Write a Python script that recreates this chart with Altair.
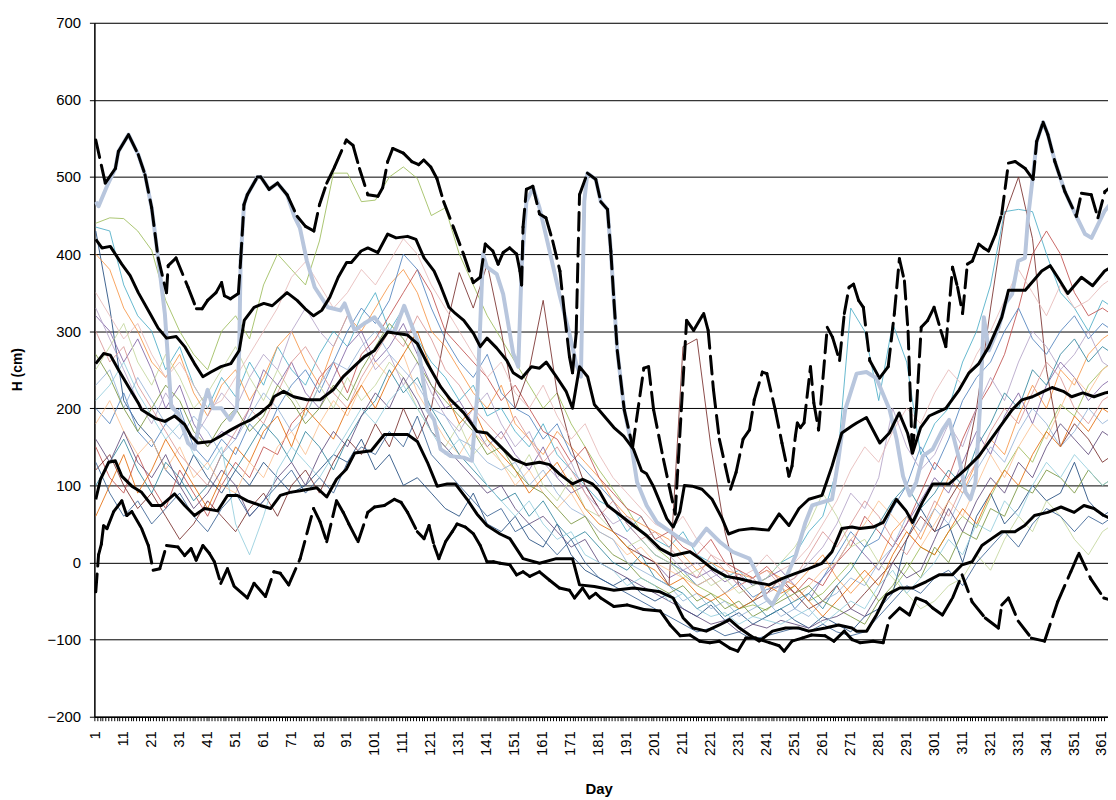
import altair as alt
import pandas as pd

# ---------------- data ----------------
grid_days = list(range(1, 362, 5)) + [365]

S1 = [440, 447, 446, 430, 405, 340, 300, 270, 250, 300,
      320, 290, 360, 400, 380, 360, 417, 505, 505, 468,
      470, 500, 513, 498, 450, 460, 400, 360, 320, 290,
      260, 230, 200, 220, 180, 150, 120, 95, 70, 40,
      20, 5, -15, -30, -40, -50, -60, -55, -62, -45,
      -30, -50, -40, -20, 0, -25, -50, -35, -10, 20,
      10, 40, 60, 45, 85, 120, 150, 130, 170, 205,
      190, 230, 250, 262]
S2 = [435, 430, 360, 320, 300, 250, 280, 230, 200, 240,
      215, 260, 230, 280, 250, 230, 270, 300, 280, 320,
      350, 300, 330, 290, 260, 240, 210, 230, 190, 200,
      170, 150, 180, 140, 120, 100, 80, 70, 40, 60,
      30, 20, 40, 10, 0, -20, -10, -30, -20, 0,
      10, 40, 60, 120, 330, 300, 210, 310, 260, 140,
      180, 200, 260, 300, 360, 455, 458, 455, 400, 350,
      330, 300, 340, 330]
S3 = [430, 330, 210, 180, 160, 120, 100, 140, 110, 90,
      120, 100, 130, 110, 90, 100, 120, 140, 130, 160,
      120, 140, 100, 110, 90, 70, 60, 90, 50, 40,
      60, 30, 20, 50, 10, -10, -20, -30, -20, -40,
      -50, -40, -60, -70, -55, -75, -65, -80, -70, -60,
      -75, -85, -70, -80, -90, -70, -60, -40, 30, 70,
      40, 50, 0, 60, 90, 50, 70, 100, 80, 90,
      130, 80, 60, 70]
S4 = [400, 380, 330, 300, 260, 240, 270, 220, 190, 230,
      250, 210, 240, 280, 300, 260, 230, 280, 320, 300,
      330, 360, 380, 350, 300, 280, 250, 220, 200, 230,
      180, 160, 140, 170, 150, 130, 110, 80, 60, 50,
      40, 30, 10, -10, 0, -10, -15, -20, -10, -20,
      -30, -10, 10, -20, -40, -20, 0, 40, 60, 30,
      70, 110, 90, 130, 160, 140, 190, 230, 200, 250,
      230, 270, 290, 300]
S5 = [150, 110, 90, 140, 100, 70, 120, 90, 60, 100,
      130, 110, 150, 140, 180, 200, 240, 260, 220, 270,
      290, 320, 350, 380, 350, 300, 280, 260, 240, 210,
      230, 200, 170, 160, 130, 150, 110, 90, 70, 60,
      30, 40, 20, 10, 30, 0, -10, -20, -5, -25,
      -40, -20, -30, 0, 20, 60, 40, 20, 50, 90,
      130, 110, 160, 200, 230, 270, 330, 400, 430, 400,
      350, 320, 330, 320]
S6 = [320, 300, 260, 290, 250, 200, 230, 180, 150, 170,
      160, 200, 250, 230, 260, 220, 200, 240, 280, 300,
      260, 280, 310, 270, 230, 200, 210, 180, 150, 170,
      140, 120, 150, 110, 90, 100, 70, 40, 30, 10,
      0, -20, -10, -20, -10, -25, -15, -30, -20, -10,
      -30, -50, -20, 0, 30, 10, -10, 20, 50, 80,
      110, 90, 130, 170, 140, 190, 220, 180, 230, 260,
      240, 210, 230, 240]
S7 = [200, 180, 220, 170, 150, 180, 200, 150, 130, 160,
      140, 180, 160, 200, 230, 250, 220, 260, 300, 330,
      310, 340, 400, 380, 330, 290, 260, 240, 270, 220,
      200, 190, 160, 180, 140, 120, 100, 80, 50, 30,
      10, 0, -10, -30, -20, -40, -25, -45, -35, -30,
      -60, -40, -20, 10, 40, 20, 30, 70, 100, 150,
      120, 160, 210, 240, 260, 300, 330, 290, 270, 300,
      320, 290, 310, 300]
S8 = [120, 140, 100, 70, 90, 60, 30, 50, 80, 60,
      40, 70, 90, 60, 100, 120, 90, 130, 160, 140,
      180, 150, 200, 160, 200, 300, 376, 330, 387, 300,
      200, 250, 340, 220, 150, 100, 70, 40, 20, 10,
      0, -30, 280, 290, 150, 40, -30, -50, -40, -20,
      -40, -60, -50, -30, -60, -40, -20, 0, 30, 60,
      40, 80, 110, 200, 330, 450, 500, 420, 250, 150,
      180, 160, 130, 140]
S9 = [250, 280, 310, 260, 230, 270, 240, 200, 220, 250,
      280, 240, 210, 250, 220, 190, 230, 200, 240, 210,
      230, 260, 240, 200, 170, 150, 180, 140, 160, 130,
      110, 140, 100, 80, 110, 70, 60, 40, 20, 30,
      10, 0, -20, -10, -30, -20, -40, -30, -20, 0,
      20, 50, 90, 60, 20, 30, 0, -20, -40, -60,
      -50, -30, -20, 10, -10, 30, 60, 40, 80, 60,
      30, 10, 40, 50]
S10 = [180, 210, 170, 140, 160, 120, 150, 110, 130, 100,
       90, 130, 110, 150, 170, 140, 180, 210, 190, 230,
       260, 240, 270, 220, 190, 160, 140, 170, 150, 130,
       100, 120, 90, 70, 90, 60, 40, 30, 10, 20,
       0, -10, -20, -30, -20, -40, -30, -20, -40, -30,
       -50, -30, -10, 0, 30, 50, 80, 60, 40, 20,
       50, 80, 60, 100, 140, 110, 150, 180, 160, 200,
       240, 220, 250, 260]
S11 = [330, 290, 250, 210, 180, 220, 190, 160, 190, 220,
       200, 240, 270, 250, 300, 330, 300, 280, 320, 290,
       250, 270, 230, 260, 220, 190, 170, 200, 220, 180,
       150, 170, 130, 110, 130, 90, 70, 50, 60, 40,
       20, 10, -10, 0, -20, -10, -30, -20, -40, -30,
       -20, 0, 20, 50, 90, 70, 110, 200, 150, 120,
       140, 180, 150, 200, 240, 210, 260, 300, 280, 250,
       270, 300, 260, 250]
S12 = [100, 130, 160, 120, 90, 130, 110, 80, 100, 140,
       120, 150, 180, 160, 130, 170, 150, 120, 160, 190,
       210, 250, 220, 240, 200, 170, 140, 120, 100, 80,
       90, 60, 80, 50, 30, 40, 20, 0, -10, 10,
       -20, -30, -40, -60, -50, -70, -60, -50, -70, -60,
       -50, -40, -60, -30, -10, 20, 50, 80, 100, 70,
       90, 120, 100, 150, 180, 220, 200, 250, 230, 270,
       290, 260, 280, 270]
S13 = [300, 260, 280, 230, 200, 170, 140, 120, 100, 140,
       170, 200, 180, 220, 260, 280, 250, 220, 200, 240,
       270, 300, 280, 320, 290, 250, 230, 200, 180, 160,
       190, 160, 130, 150, 120, 90, 60, 80, 50, 30,
       40, 20, 0, -20, 10, -10, -30, -20, -10, -30,
       -20, 10, 40, 20, 50, 80, 60, 30, 10, 40,
       80, 60, 100, 130, 170, 200, 180, 220, 260, 240,
       200, 180, 210, 220]
S14 = [230, 250, 200, 240, 210, 180, 160, 190, 170, 140,
       160, 190, 220, 200, 170, 190, 230, 260, 250, 280,
       300, 270, 250, 230, 200, 190, 160, 150, 130, 120,
       130, 100, 120, 90, 70, 60, 40, 30, 0, -10,
       -20, -30, -50, -40, -60, -50, -70, -60, -50, -70,
       -60, -70, -50, -40, -20, -30, 0, 20, 60, 40,
       70, 50, 90, 120, 150, 130, 170, 200, 180, 150,
       170, 200, 180, 190]
S15 = [60, 100, 140, 90, 120, 160, 130, 100, 70, 110,
       150, 130, 170, 190, 150, 200, 180, 160, 200, 230,
       200, 240, 270, 300, 250, 220, 180, 200, 160, 140,
       120, 90, 110, 130, 100, 70, 50, 40, 20, 0,
       -10, -30, -20, -40, -50, -40, -60, -50, -30, -40,
       -30, -50, -70, -50, -30, -10, -30, 10, 40, 20,
       10, 40, 70, 50, 90, 120, 100, 140, 170, 150,
       190, 170, 200, 190]
S16 = [270, 240, 200, 170, 200, 230, 210, 170, 150, 180,
       200, 170, 190, 230, 210, 180, 200, 230, 210, 250,
       280, 310, 290, 260, 230, 210, 190, 170, 140, 150,
       120, 100, 90, 70, 50, 60, 30, 10, 0, -20,
       -30, -40, -30, -50, -40, -60, -50, -70, -60, -50,
       -40, -30, -50, -60, -70, -80, -50, -30, 0, -20,
       20, 0, 40, 30, 70, 60, 100, 90, 120, 110,
       90, 120, 100, 110]
S17 = [160, 130, 170, 130, 110, 140, 100, 70, 90, 120,
       100, 60, 80, 110, 130, 100, 140, 170, 150, 190,
       220, 200, 240, 210, 170, 150, 130, 110, 90, 100,
       70, 50, 60, 40, 20, 30, 0, -10, -20, -30,
       -40, -50, -60, -70, -80, -75, -90, -80, -85, -75,
       -80, -85, -75, -70, -60, -70, -40, 0, -20, -10,
       30, 70, 40, 80, 110, 90, 130, 110, 150, 180,
       160, 140, 170, 160]
S18 = [210, 230, 260, 220, 190, 160, 180, 140, 120, 150,
       50, 10, 60, 120, 150, 130, 110, 140, 170, 200,
       180, 210, 230, 200, 170, 140, 160, 130, 100, 80,
       60, 80, 50, 30, 40, 10, 0, -10, -30, -20,
       -30, -50, -40, -60, -70, -65, -80, -70, -75, -80,
       -70, -60, -80, -65, -50, -60, -30, -10, -40, -20,
       0, 30, 10, 50, 40, 80, 60, 100, 130, 110,
       140, 120, 100, 110]
S19 = [350, 320, 290, 310, 270, 240, 260, 230, 200, 210,
       240, 270, 300, 330, 370, 390, 360, 330, 350, 380,
       360, 390, 420, 400, 360, 330, 300, 270, 240, 260,
       220, 200, 230, 190, 160, 180, 140, 110, 90, 70,
       50, 40, 60, 30, 10, 0, -20, -10, 10, -10,
       0, 20, 50, 80, 120, 150, 130, 170, 200, 180,
       220, 250, 230, 270, 300, 340, 380, 350, 320, 360,
       330, 340, 360, 370]
S20 = [130, 90, 60, 80, 50, 70, 90, 60, 40, 70,
       90, 60, 80, 100, 120, 90, 110, 90, 130, 150,
       140, 170, 150, 190, 140, 120, 100, 80, 60, 70,
       40, 50, 30, 10, 30, 0, -20, -30, -40, -50,
       -60, -70, -80, -90, -85, -95, -90, -100, -95, -90,
       -85, -90, -80, -90, -95, -90, -70, -50, -30, -40,
       -20, -10, -30, 0, 20, 40, 20, 50, 70, 60,
       40, 60, 50, 60]

thin_series = [S1, S2, S3, S4, S5, S6, S7, S8, S9, S10,
               S11, S12, S13, S14, S15, S16, S17, S18, S19, S20]
thin_names = ["Y%02d" % (i + 1) for i in range(len(thin_series))]
thin_colors = ["#9BBB59", "#4BACC6", "#1F497D", "#F79646", "#C0504D",
               "#8064A2", "#4F81BD", "#772C2A", "#C3D69B", "#FAC090",
               "#B3A2C7", "#31859C", "#D99694", "#95B3D7", "#E46C0A",
               "#77933C", "#5F497A", "#93CDDD", "#E6B9B8", "#366092"]

# highlighted year (thick light blue)
lb_days = [1, 2, 5, 8, 9.1, 12.7, 16.2, 18.6, 21, 23.3, 25.7, 28, 30.4, 34, 36.3,
           38.5, 41, 43, 46, 49, 51.5, 52.3, 52.8, 54, 55.2, 58.8, 60, 63, 66,
           69.4, 72, 74, 76.5, 79.3, 84, 88.5, 90, 93.6, 97, 100.7, 104.2, 107.8,
           111.3, 116, 119.6, 122, 124.3, 127.9, 132.6, 135.5, 137.5, 139.5,
           140.9, 144.4, 146.7, 150.3, 152.1, 153.3, 155, 157.4, 159.7, 163.3,
           166.8, 170.4, 172.8, 174.5, 175.7, 176.8, 179.8, 181.6, 184, 185.2,
           186.3, 187.5, 190, 192.2, 194.6, 198, 201.7, 206.4, 210, 214.8, 219.4,
           224.1, 228.7, 234.8, 238.3, 240.6, 243, 245.4, 247.7, 251.3, 254.8,
           257.2, 260.7, 264.3, 266.6, 269, 273.1, 276.6, 280.2, 284.9, 287.4,
           289.7, 292.1, 294.4, 296.8, 300.3, 303.8, 306.2, 309.8, 312.1, 313.8,
           315.6, 317.2, 318.6, 320.4, 323.9, 326.3, 328.7, 330.9, 333.3, 334.4,
           336.2, 337.5, 339.8, 341.5, 344, 347.6, 351.7, 354.8, 357.1, 361.8, 365]
lb_vals = [468, 462, 488, 511, 533, 555, 529, 503, 460, 395, 323, 202, 194, 155, 147,
           190, 224, 200, 200, 185, 200, 275, 391, 464, 477, 500, 500, 484, 492,
           477, 449, 434, 391, 357, 331, 327, 336, 301, 310, 318, 301, 299,
           333, 288, 198, 185, 147, 138, 136, 132, 220, 400,
           383, 374, 348, 271, 254, 383, 468, 486, 460, 404,
           348, 297, 258, 241, 468, 505, 497, 468, 458, 404,
           340, 275, 198, 160, 104, 74, 52, 40, 31, 22, 44,
           27, 14, 5, -21, -46, -55, -38, -21, 9, 52,
           74, 78, 82, 134, 198, 245, 247, 239, 198, 160,
           112, 87, 104, 138, 147, 172, 185, 134, 91, 82,
           104, 200, 318, 275, 305, 336, 348, 391, 395, 447,
           503, 546, 571, 555, 520, 481, 449, 426, 421, 456, 470]

max_days = [1, 4.4, 8, 9.1, 12.7, 16.2, 18.6, 21, 23.3, 26.3, 26.9, 29.7, 34, 37, 39,
            41, 44, 46, 47, 49.2, 52, 52.8, 54, 55.2, 58.8, 60, 63, 66, 69.4, 73,
            76, 79, 81, 83.6, 86.4, 90.6, 93, 95.3, 98.3, 101.9, 103.6, 105.4,
            107.2, 111, 114, 116.5, 118.3, 120.8, 123, 125.4, 129, 132.5, 136,
            138.5, 140.3, 143, 144.9, 146.7, 149, 151.5, 152.7, 153.3, 153.8, 155,
            157.3, 159.7, 162, 164.4, 167, 168.6, 170.4, 171.5, 172.8, 174, 176.8,
            179.8, 181.6, 184, 185.2, 186.3, 187.5, 190, 193, 197, 198.7, 200.5,
            204, 208.2, 212.3, 214.8, 218.4, 220, 221.9, 224, 228, 230, 232.5,
            234.8, 236.5, 239.4, 241, 244, 246.4, 248.9, 250, 251.2, 251.9, 253,
            254.3, 256.6, 257.8, 259.5, 262.6, 264.5, 267, 268.7, 270.4, 272,
            273.8, 275.5, 277.8, 281.3, 284.4, 286.6, 288.4, 290.2, 291.5, 293,
            294.5, 296.2, 298.5, 300.8, 303.2, 305, 307.4, 309.2, 311, 312.7,
            314.5, 316.8, 318.5, 320.3, 322.8, 325, 327.4, 329.8, 333.4, 336.2,
            337.5, 339.8, 341.5, 344, 347.6, 351.7, 353.5, 357, 359.4, 361.9, 365]
max_vals = [548, 492, 511, 533, 555, 529, 503, 460, 395, 350, 385, 395, 357, 329, 329,
            340, 350, 363, 346, 342, 349, 391, 464, 477, 500, 500, 484, 492, 477, 449,
            436, 430, 464, 492, 513, 548, 541, 511, 477, 475, 486, 520,
            537, 531, 520, 516, 522, 513, 498, 468, 434, 400, 363,
            370, 413, 404, 387, 402, 408, 400, 378, 360, 435, 484,
            488, 452, 447, 417, 378, 323, 267, 246, 297, 477, 505,
            497, 468, 458, 404, 340, 275, 198, 150, 252, 254, 198,
            134, 63, 314, 301, 323, 301, 224, 160, 95, 117, 160,
            172, 211, 247, 245, 198, 155, 112, 125, 164, 181, 175,
            181, 254, 207, 172, 305, 292, 262, 323, 357, 361,
            340, 331, 262, 239, 254, 323, 394, 365, 300, 142,
            200, 305, 314, 331, 301, 280, 383, 357, 323, 387,
            391, 413, 408, 404, 426, 452, 518, 520, 511, 497,
            546, 571, 555, 520, 481, 449, 479, 477, 447, 481, 490]

p90_days = [1, 3.2, 6.2, 10.3, 13.3, 16.2, 20.4, 23.3, 26.3, 29.8, 32.8, 36.3, 39.3,
            42.2, 45.8, 49.3, 52.3, 54.1, 57.6, 61.1, 64.1, 69.4, 73, 75.9, 78.9,
            81.8, 84.7, 87.7, 90.7, 92.4, 95.9, 98.3, 101.9, 105.4, 108.4, 112.5,
            115.5, 118.4, 122, 124.3, 127.3, 129.6, 132.6, 136.1, 138.5, 140.9,
            144.4, 148, 150.3, 153.3, 156.8, 159.7, 162.1, 165.7, 169.2, 171.5,
            174, 176.9, 179.3, 182.8, 186.3, 189.8, 193.3, 196.2, 198, 200.4,
            202.8, 205.2, 207.5, 209.9, 211.5, 214.3, 217.8, 221.4, 225, 227.3,
            231, 235.7, 241.6, 245.4, 248.9, 252.5, 256, 260.7, 264.3, 267.8,
            271.4, 273.1, 276.6, 281.4, 284.8, 288.3, 291.3, 293.1, 296, 299, 302,
            305, 309.8, 313.3, 316.8, 320.4, 325, 327.4, 333.4, 339.3, 342.3, 345,
            348.6, 353.5, 357.5, 361.8, 365]
p90_vals = [419, 408, 410, 387, 372, 350, 323, 304, 291, 293, 280, 258, 241,
            247, 254, 258, 275, 314, 331, 336, 333, 350, 340, 329, 320,
            327, 344, 370, 389, 389, 404, 408, 402, 426, 421, 423,
            419, 395, 378, 359, 331, 323, 314, 297, 280, 291,
            278, 262, 246, 239, 254, 252, 260, 241, 222, 200,
            254, 241, 205, 190, 175, 164, 147, 119, 115, 99,
            78, 57, 46, 66, 100, 99, 95, 82, 57, 37,
            42, 44, 42, 63, 48, 70, 82, 87, 125, 168,
            177, 181, 188, 155, 168, 194, 168, 142, 175, 190, 195,
            200, 224, 246, 258, 280, 318, 353, 353, 378, 385, 370,
            349, 370, 359, 378, 385]

med_days = [1, 3.8, 6.2, 9.1, 12.7, 16.2, 17.4, 22.2, 25.7, 29.2, 32.8, 35.1, 37.5,
            42.2, 45.7, 49.3, 52.8, 56.4, 59.9, 63.5, 64.7, 68.2, 71.8, 76.5, 81.2,
            85.9, 89.5, 97.1, 100.7, 105.4, 112.5, 116, 119.6, 124.3, 127.9, 132.6,
            137.3, 140.9, 145.6, 150.3, 155, 159.7, 163.3, 166.8, 171.5, 175.1,
            178.6, 181, 184, 188.7, 193.3, 198, 202.8, 207.5, 213.5, 217, 221.4,
            226.5, 231.2, 235.6, 241.8, 246.4, 251.3, 256, 260.7, 264.3, 267.8,
            271.4, 274.3, 279, 282.6, 287.3, 290.8, 293.1, 296.6, 300.3, 306.2,
            312.1, 316.8, 322.8, 328.7, 332.2, 336, 340, 343, 347, 350, 354, 358,
            362, 365]
med_vals = [258, 271, 269, 250, 228, 207, 198, 187, 183, 190, 179, 164, 155,
            157, 164, 172, 179, 185, 194, 205, 215, 222, 215, 211, 211,
            224, 241, 267, 275, 299, 295, 284, 258, 228, 211, 194,
            170, 168, 151, 134, 127, 130, 127, 115, 102, 108,
            102, 93, 74, 61, 48, 35, 18, 9, 14, 5, -8,
            -18, -21, -25, -29, -21, -14, -8, -1, 14, 44,
            46, 44, 46, 52, 82, 67, 52, 78, 102, 102,
            121, 138, 168, 198, 211, 215, 222, 227, 222, 215, 220, 215,
            220, 222]

p10_days = [1, 2.7, 5.6, 8, 10.3, 13.9, 17.4, 21, 24.5, 29.2, 32.8, 36.3, 39.9, 44.6,
            48.1, 51.7, 55.2, 59.9, 63.5, 67, 70.5, 74.1, 80, 83.6, 87.1, 90.6,
            93.6, 99.5, 104.2, 112.5, 116, 119.6, 123.1, 126.7, 129.6, 133.8,
            137.3, 140.9, 145.6, 149.1, 153.8, 159.7, 165.7, 171.5, 174, 179.3,
            186.3, 193.3, 202.8, 207.5, 211.1, 214.6, 219.3, 224, 227.7, 231.2,
            234.8, 238.3, 243, 247.7, 252.5, 256, 261.9, 266.6, 271.4, 273.1,
            276.7, 280.2, 283.8, 288.5, 293.2, 297.9, 302.6, 307.3, 310.8, 314.4,
            317.9, 321.4, 325, 329.7, 333.2, 336.7, 341.4, 346.2, 350.9, 354.4,
            358, 361.5, 365]
p10_vals = [82, 108, 130, 132, 112, 99, 91, 74, 74, 89, 74, 61, 70, 67,
            87, 87, 80, 74, 70, 87, 91, 93, 97, 85, 108, 121,
            142, 145, 166, 166, 157, 130, 99, 102, 102, 82,
            63, 48, 37, 31, 5, -1, 5, 5, -29, -31,
            -36, -33, -38, -46, -72, -85, -89, -81, -74, -85,
            -94, -102, -89, -85, -85, -89, -85, -81, -85, -89,
            -89, -68, -42, -33, -33, -25, -16, -16, -3, 1,
            22, 31, 40, 40, 48, 61, 65, 72, 65, 74,
            70, 61, 55]

min_days = [1, 2, 3, 3.8, 5, 7.4, 10.3, 12.1, 13.9, 17.4, 19.8, 21.5, 23.9, 26.3,
            30.4, 32.8, 35.1, 36.9, 39.3, 41.6, 43.4, 45.7, 48.1, 50.5, 55.2, 57.6,
            61.7, 64.7, 67, 70, 74.1, 78.9, 81.2, 83.6, 87.1, 89.5, 91.5, 94.8,
            98.3, 100.7, 104.2, 107.8, 110.2, 112.5, 116, 118.4, 120.2, 122, 123.7,
            126.1, 128.5, 130.2, 133.2, 136.1, 138.5, 140.9, 143.2, 145.6, 149.1,
            151.5, 153.8, 156.2, 159.7, 163.3, 166.8, 170.4, 172.2, 175.1, 177.5,
            179.8, 181.6, 186.3, 191, 197, 202.9, 206.4, 210, 213.5, 217, 220.6,
            224, 227.7, 230.6, 233.5, 237, 241.9, 245.4, 247.2, 250, 253.6, 257,
            261.8, 265, 268.7, 271.5, 274.3, 279, 282.6, 284.9, 288.5, 292, 294.4,
            297.9, 300.3, 303.8, 307.4, 310.8, 314.4, 319.1, 323.8, 325, 327.4,
            330.9, 335.6, 340.3, 345, 349.7, 352.6, 356.8, 361.5, 365]
min_vals = [-38, 10, 24, 48, 44, 66, 80, 61, 66, 44, 22, -10, -8, 22,
            20, 9, 18, 3, 22, 12, 1, -27, -8, -31, -46, -27,
            -44, -12, -14, -29, 5, 70, 53, 27, 80, 65, 50, 27,
            65, 72, 74, 82, 78, 65, 40, 31, 48, 22, 5,
            27, 40, 50, 46, 37, 22, 1, 1, -1, -3,
            -16, -12, -18, -12, -23, -33, -36, -46, -33, -46,
            -40, -46, -57, -55, -61, -63, -81, -95, -94, -102, -104,
            -102, -111, -115, -98, -98, -104, -108, -115, -102, -98, -94,
            -95, -102, -89, -100, -104, -102, -104, -72, -59, -68, -46,
            -51, -59, -68, -46, -16, -51, -72, -85, -55, -46,
            -76, -98, -102, -51, -12, 12, -21, -46, -50]

# ---------------- tables ----------------
thin_rows = []
for name, vals in zip(thin_names, thin_series):
    for d, v in zip(grid_days, vals):
        thin_rows.append({"series": name, "day": d, "val": v})
thin_df = pd.DataFrame(thin_rows)

lb_df = pd.DataFrame({"day": lb_days, "val": lb_vals})

# smooth statistic lines (solid)
stat_rows = []
for name, ds, vs in [("p90", p90_days, p90_vals), ("median", med_days, med_vals),
                     ("p10", p10_days, p10_vals)]:
    for d, v in zip(ds, vs):
        stat_rows.append({"line": name, "day": d, "val": v})
stat_df = pd.DataFrame(stat_rows)

# extreme lines: dash pattern restarts on every segment (as in the source)
seg_rows = []
for name, ds, vs in [("max", max_days, max_vals), ("min", min_days, min_vals)]:
    for i in range(len(ds) - 1):
        seg_rows.append({"line": name, "x": ds[i], "y": vs[i],
                         "x2": ds[i + 1], "y2": vs[i + 1]})
seg_df = pd.DataFrame(seg_rows)

# ---------------- chart ----------------
FONT = "Liberation Sans"
x_scale = alt.Scale(domain=[0.5, 363], nice=False, zero=False)
y_scale = alt.Scale(domain=[-200, 700], nice=False, zero=False)

x_axis = alt.Axis(
    values=list(range(1, 363)), tickCount=1000, format="d",
    labelExpr="(datum.value - 1) % 10 == 0 ? datum.label : ''",
    labelAngle=270, labelOverlap=False, labelFlush=False,
    labelFontSize=15, labelPadding=10, labelColor="black",
    tickSize=4, tickColor="black", tickOffset=-1.4,
    domainColor="black", domainWidth=1.5, grid=False,
    titleFontSize=15, titleFontWeight="bold", titleColor="black",
    titleX=508, titleY=77, titleBaseline="alphabetic", titleAlign="center",
)
y_axis = alt.Axis(
    values=list(range(-200, 701, 100)),
    labelFontSize=15, labelPadding=9, labelColor="black",
    tickSize=5, tickColor="black",
    domainColor="black", domainWidth=1.5,
    grid=True, gridColor="black", gridWidth=1,
    titleFontSize=14, titleFontWeight="bold", titleColor="black",
    titleX=-77, titleY=349, titleAngle=270, titleAlign="center",
    titleBaseline="middle",
)

thin = alt.Chart(thin_df).mark_line(strokeWidth=1, opacity=0.85, clip=True).encode(
    x=alt.X("day:Q", scale=x_scale, axis=x_axis, title="Day"),
    y=alt.Y("val:Q", scale=y_scale, axis=y_axis, title="H (cm)"),
    color=alt.Color("series:N", scale=alt.Scale(domain=thin_names, range=thin_colors),
                    legend=None),
)

lb = alt.Chart(lb_df).mark_line(color="#B8C6DD", strokeWidth=4, clip=True,
                                 strokeJoin="round").encode(
    x=alt.X("day:Q", title="Day"),
    y=alt.Y("val:Q", title="H (cm)"),
)

stats = alt.Chart(stat_df).mark_line(color="black", strokeWidth=3, clip=True,
                                      strokeJoin="round").encode(
    x=alt.X("day:Q", title="Day"),
    y=alt.Y("val:Q", title="H (cm)"),
    detail="line:N",
)

extremes = alt.Chart(seg_df).mark_rule(color="black", strokeWidth=3, strokeDash=[18, 8],
                                       strokeCap="round", clip=True).encode(
    x=alt.X("x:Q", title="Day"),
    x2="x2:Q",
    y=alt.Y("y:Q", title="H (cm)"),
    y2="y2:Q",
)

chart = alt.layer(thin, lb, stats, extremes).properties(
    width=1021, height=699,
    padding={"left": 87, "top": 12, "right": 0, "bottom": 81},
    autosize=alt.AutoSizeParams(type="none"),
).configure_view(stroke=None).configure(font=FONT)

chart.save("out.html", embed_options={"renderer": "svg", "actions": False})
